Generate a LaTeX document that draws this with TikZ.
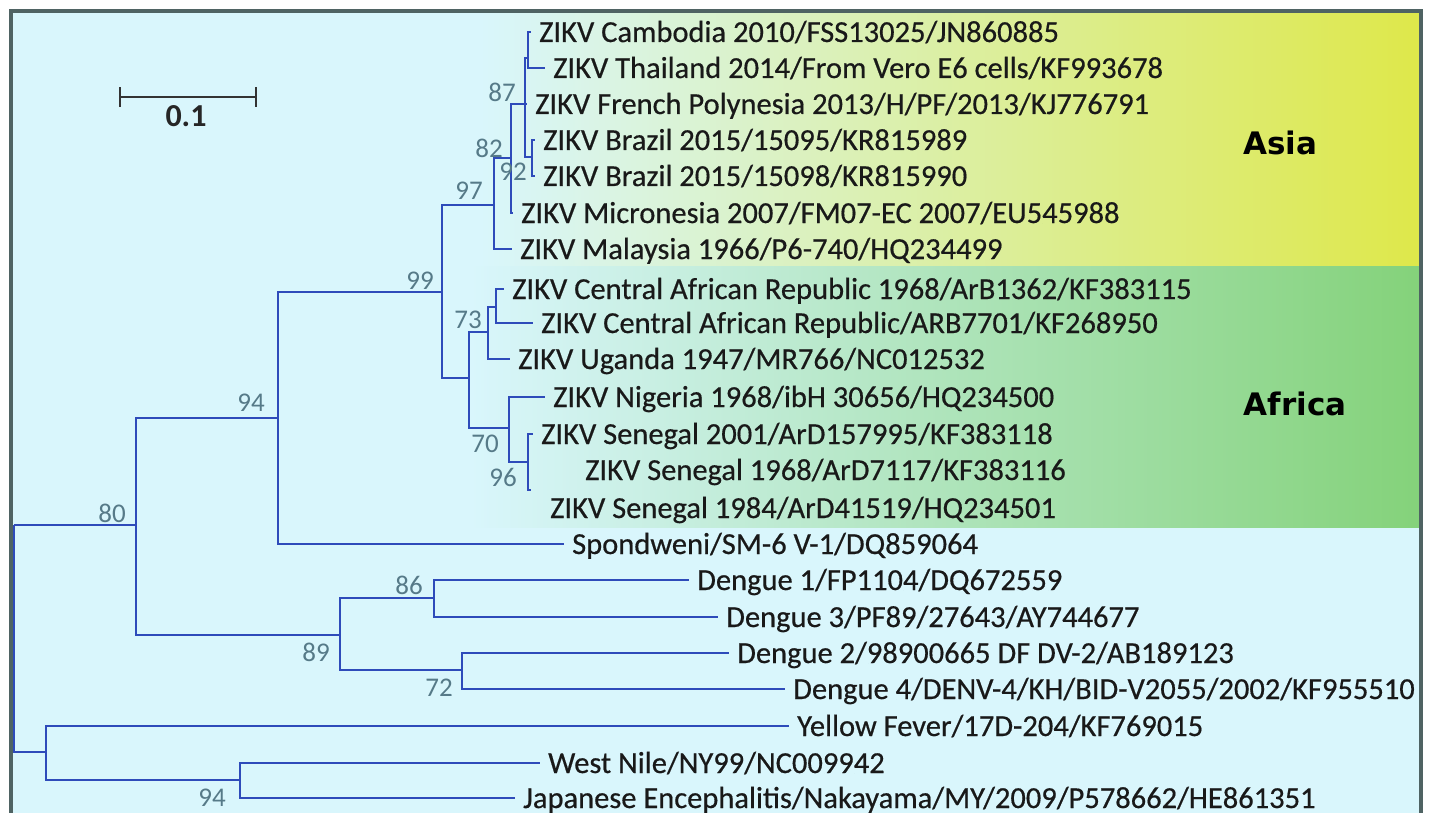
\documentclass[tikz,border=0pt]{standalone}
\usepackage{fontspec}
\setmainfont{Carlito}
\newfontfamily\taxfont{Carlito}[FakeBold=0.5]
\newfontfamily\heavyfont{DejaVu Sans}
\usepackage{tikz}

\definecolor{panelbg}{HTML}{D9F6FC}
\definecolor{framegray}{HTML}{4F6363}
\definecolor{treeblue}{HTML}{2E4BBA}
\definecolor{bootgray}{HTML}{567A88}
\definecolor{asiayellow}{HTML}{DEE84A}
\definecolor{africagreen}{HTML}{84D27A}

\begin{document}
\begin{tikzpicture}[x=1pt,y=-1pt,
	branch/.style={draw=treeblue,line width=2.4pt},
	taxon/.style={anchor=west,inner xsep=8pt,inner ysep=0pt,text height=20pt,text depth=0pt,
		font=\taxfont\fontsize{30.5}{32}\selectfont,text=black!90},
	boot/.style={inner sep=0pt,font=\fontsize{27}{29}\selectfont,text=bootgray},
	clade/.style={inner sep=0pt,font=\heavyfont\bfseries\fontsize{31}{33}\selectfont}]
	\useasboundingbox (0,0) rectangle (1432,813);
	\fill[white] (0,0) rectangle (1432,813);
	\fill[panelbg] (11,11) rectangle (1421,813);
	\shade[left color=panelbg,right color=asiayellow] (480,11) rectangle (1421,266);
	\shade[left color=panelbg,right color=africagreen] (470,266) rectangle (1421,527);
	\draw[framegray,line width=4pt] (11,813) -- (11,11) -- (1421,11) -- (1421,813);
	
	% scale bar
	\coordinate (sbL) at (120,97);
	\coordinate (sbR) at (256,97);
	\draw[black!80,line width=1.8pt] (sbL) -- (sbR);
	\draw[black!80,line width=1.8pt] ([yshift=-10pt]sbL) -- ([yshift=10pt]sbL);
	\draw[black!80,line width=1.8pt] ([yshift=-10pt]sbR) -- ([yshift=10pt]sbR);
	\node[inner sep=0pt,font=\bfseries\fontsize{32}{34}\selectfont,text=black!85] (sbtext) at (186,116) {0.1};
	
	% internal nodes
	\coordinate (root) at (14,525);
	\coordinate (n80) at (136,525);
	\coordinate (n94) at (278,418);
	\coordinate (n99) at (442,292);
	\coordinate (n97) at (494,205);
	\coordinate (n82) at (511,158);
	\coordinate (n87) at (525,104);
	\coordinate (nCT) at (528,58);
	\coordinate (n92) at (532,157);
	\coordinate (nAfr) at (469,378);
	\coordinate (n73) at (488,332);
	\coordinate (nCAR) at (496,307);
	\coordinate (n70) at (509,428);
	\coordinate (n96) at (528,462);
	\coordinate (tSen) at (531,490);
	\coordinate (n89) at (340,635);
	\coordinate (n86) at (434,598);
	\coordinate (n72) at (462,670);
	\coordinate (nFla) at (46,752);
	\coordinate (n94b) at (240,780);
	
	% taxa
	\node[taxon] (cambo) at (531,32) {ZIKV Cambodia 2010/FSS13025/JN860885};
	\node[taxon] (thai) at (545,68) {ZIKV Thailand 2014/From Vero E6 cells/KF993678};
	\node[taxon] (fpoly) at (527,104) {ZIKV French Polynesia 2013/H/PF/2013/KJ776791};
	\node[taxon] (braz1) at (535,140) {ZIKV Brazil 2015/15095/KR815989};
	\node[taxon] (braz2) at (535,176) {ZIKV Brazil 2015/15098/KR815990};
	\node[taxon] (micro) at (513,213) {ZIKV Micronesia 2007/FM07-EC 2007/EU545988};
	\node[taxon] (malay) at (512,249) {ZIKV Malaysia 1966/P6-740/HQ234499};
	\node[taxon] (car68) at (504,289) {ZIKV Central African Republic 1968/ArB1362/KF383115};
	\node[taxon] (car) at (533,323) {ZIKV Central African Republic/ARB7701/KF268950};
	\node[taxon] (uganda) at (510,359) {ZIKV Uganda 1947/MR766/NC012532};
	\node[taxon] (nigeria) at (545,397) {ZIKV Nigeria 1968/ibH 30656/HQ234500};
	\node[taxon] (sen01) at (533,434) {ZIKV Senegal 2001/ArD157995/KF383118};
	\node[taxon] (sen68) at (577,470) {ZIKV Senegal 1968/ArD7117/KF383116};
	\node[taxon] (sen84) at (542,508) {ZIKV Senegal 1984/ArD41519/HQ234501};
	\node[taxon] (spond) at (564,544) {Spondweni/SM-6 V-1/DQ859064};
	\node[taxon] (den1) at (689,580) {Dengue 1/FP1104/DQ672559};
	\node[taxon] (den3) at (718,617) {Dengue 3/PF89/27643/AY744677};
	\node[taxon] (den2) at (729,653) {Dengue 2/98900665 DF DV-2/AB189123};
	\node[taxon] (den4) at (785,689) {Dengue 4/DENV-4/KH/BID-V2055/2002/KF955510};
	\node[taxon] (yf) at (789,726) {Yellow Fever/17D-204/KF769015};
	\node[taxon] (wn) at (540,763) {West Nile/NY99/NC009942};
	\node[taxon] (je) at (515,798) {Japanese Encephalitis/Nakayama/MY/2009/P578662/HE861351};
	
	% branches
	\foreach \p/\c in {root/n80,root/nFla,n80/n94,n80/n89,n94/n99,n99/n97,n99/nAfr,
		n97/n82,n82/n87,n87/nCT,n87/n92,nAfr/n73,nAfr/n70,n73/nCAR,n70/n96,n96/tSen,
		n89/n86,n89/n72,nFla/n94b}
		\draw[branch] (\p) |- (\c);
	\foreach \p/\c in {n94/spond,n97/malay,n82/micro,n87/fpoly,nCT/cambo,nCT/thai,
		n92/braz1,n92/braz2,n73/uganda,nCAR/car68,nCAR/car,n70/nigeria,n96/sen01,
		n86/den1,n86/den3,n72/den2,n72/den4,nFla/yf,n94b/wn,n94b/je}
		\draw[branch] (\p) |- (\c.west);
	
	% bootstrap values
	\node[boot] (bs80) at (112,513) {80};
	\node[boot] (bs94a) at (251,403) {94};
	\node[boot] (bs99) at (420,281) {99};
	\node[boot] (bs97) at (469,191) {97};
	\node[boot] (bs82) at (489,148) {82};
	\node[boot] (bs87) at (502,92) {87};
	\node[boot] (bs92) at (513,172) {92};
	\node[boot] (bs73) at (468,320) {73};
	\node[boot] (bs70) at (485,444) {70};
	\node[boot] (bs96) at (503,477) {96};
	\node[boot] (bs86) at (409,585) {86};
	\node[boot] (bs89) at (316,652) {89};
	\node[boot] (bs72) at (439,688) {72};
	\node[boot] (bs94b) at (212,798) {94};
	
	% clades
	\node[clade] (asia) at (1280,143) {Asia};
	\node[clade] (africa) at (1295,404) {Africa};
\end{tikzpicture}
\end{document}
